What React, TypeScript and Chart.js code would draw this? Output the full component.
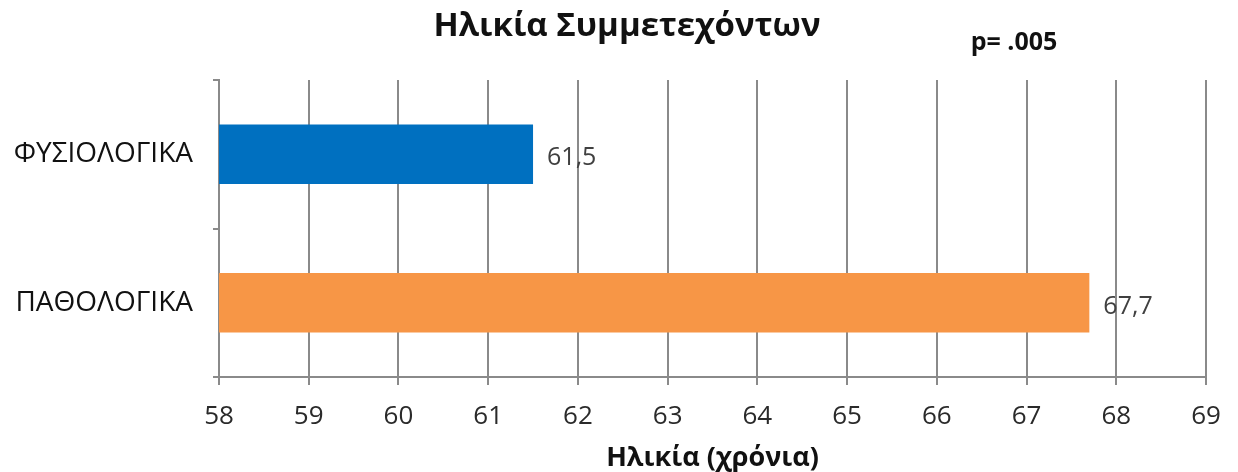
import React, { useEffect, useRef } from "react";
import { Chart, registerables } from "chart.js";

Chart.register(...registerables);

const categories = ["ΦΥΣΙΟΛΟΓΙΚΑ", "ΠΑΘΟΛΟΓΙΚΑ"];
const values = [61.5, 67.7];
const barColors = ["#0070C0", "#F79646"];
const titleText = "Ηλικία Συμμετεχόντων";
const pValueText = "p= .005";
const xAxisTitle = "Ηλικία (χρόνια)";
const xMin = 58;
const xMax = 69;

const FONT = "'Open Sans', 'Noto Sans', sans-serif";
const GRID = "#8a8a8a";

export default function App() {
  const ref = useRef<HTMLCanvasElement | null>(null);

  useEffect(() => {
    document.body.style.margin = "0";
    const canvas = ref.current;
    if (!canvas) return;

    const overlay = {
      id: "overlay",
      afterDatasetsDraw(chart: any) {
        const ctx = chart.ctx;
        const meta = chart.getDatasetMeta(0);
        ctx.save();
        ctx.font = `25px ${FONT}`;
        ctx.fillStyle = "#404040";
        ctx.textAlign = "left";
        ctx.textBaseline = "middle";
        meta.data.forEach((bar: any, i: number) => {
          const txt = values[i].toFixed(1).replace(".", ",");
          ctx.fillText(txt, bar.x + 14, bar.y + 4);
        });
        ctx.fillStyle = "#111";
        ctx.textAlign = "center";
        ctx.font = `bold 33px ${FONT}`;
        ctx.fillText(titleText, 627, 27);
        ctx.font = `bold 25px ${FONT}`;
        ctx.fillText(pValueText, 1014, 43);
        ctx.restore();
      },
    };

    const chart = new Chart(canvas, {
      type: "bar",
      data: {
        labels: categories,
        datasets: [
          {
            data: values,
            backgroundColor: barColors,
            borderWidth: 0,
            barPercentage: 0.8,
            categoryPercentage: 0.5,
          },
        ],
      },
      options: {
        indexAxis: "y",
        animation: false,
        responsive: false,
        maintainAspectRatio: false,
        layout: { padding: { top: 80, right: 32, left: 0, bottom: 0 } },
        plugins: {
          legend: { display: false },
          tooltip: { enabled: false },
          title: { display: false },
        },
        scales: {
          x: {
            type: "linear",
            min: xMin,
            max: xMax,
            ticks: {
              stepSize: 1,
              color: "#2a2a2a",
              font: { family: FONT, size: 26 },
              padding: 16,
            },
            grid: {
              color: GRID,
              lineWidth: 2,
              tickLength: 8,
              drawTicks: true,
            },
            border: { color: GRID, width: 2 },
            title: {
              display: true,
              text: xAxisTitle,
              color: "#111",
              font: { family: FONT, size: 27, weight: "bold", lineHeight: 1.05 },
              padding: { top: 0, bottom: 0 },
            },
            afterFit(scale: any) {
              scale.height = 95;
            },
          },
          y: {
            type: "category",
            ticks: {
              color: "#111",
              font: { family: FONT, size: 28 },
              padding: 20,
            },
            grid: {
              color: GRID,
              lineWidth: 2,
              drawOnChartArea: false,
              drawTicks: true,
              tickLength: 6,
              offset: true,
            },
            border: { color: GRID, width: 2 },
            afterFit(scale: any) {
              scale.width = 219;
            },
          },
        },
      },
      plugins: [overlay],
    });

    return () => chart.destroy();
  }, []);

  return (
    <div style={{ width: 1238, height: 472, background: "#fff" }}>
      <canvas ref={ref} width={1238} height={472} />
    </div>
  );
}
